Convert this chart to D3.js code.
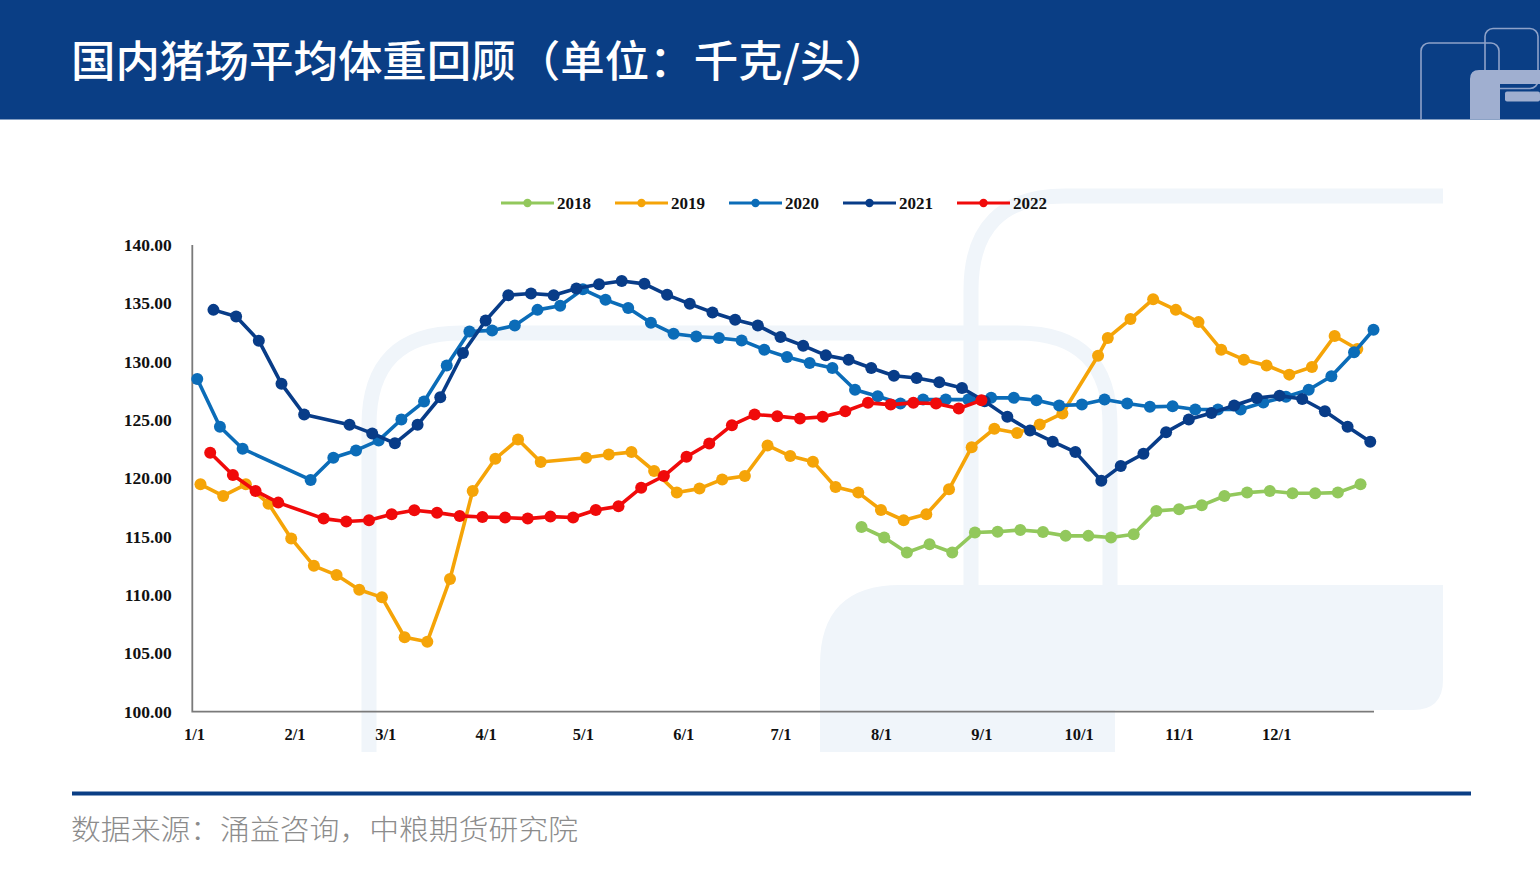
<!DOCTYPE html>
<html>
<head>
<meta charset="utf-8">
<script src="https://cdn.jsdelivr.net/npm/d3@7"></script>
<style>
  html, body { margin: 0; padding: 0; background: #ffffff; }
  svg { display: block; }
</style>
</head>
<body>
<svg id="chart" width="1540" height="875"></svg>
<script>
// ---------------- DATA ----------------
const title = "国内猪场平均体重回顾（单位：千克/头）";
const source = "数据来源：涌益咨询，中粮期货研究院";
const monthTicks = ["1/1","2/1","3/1","4/1","5/1","6/1","7/1","8/1","9/1","10/1","11/1","12/1"];
const yTicks = [100, 105, 110, 115, 120, 125, 130, 135, 140];
const seriesNames = ["2018", "2019", "2020", "2021", "2022"];
const seriesColors = ["#92C85C", "#F5A408", "#0B6CB8", "#083C88", "#F00A0A"];

const dates2018 = ["7/26","8/2","8/9","8/16","8/23","8/30","9/6","9/13","9/20","9/27","10/4","10/11","10/18","10/25","11/1","11/8","11/15","11/22","11/29","12/6","12/13","12/20","12/27"];
const values2018 = [115.84,114.93,113.65,114.36,113.65,115.36,115.43,115.58,115.41,115.07,115.07,114.93,115.21,117.21,117.35,117.69,118.49,118.78,118.92,118.72,118.72,118.78,119.49];

const dates2019 = ["1/3","1/10","1/17","1/24","1/31","2/7","2/14","2/21","2/28","3/7","3/14","3/21","3/28","4/4","4/11","4/18","5/2","5/9","5/16","5/23","5/30","6/6","6/13","6/20","6/27","7/4","7/11","7/18","7/25","8/1","8/8","8/15","8/22","8/29","9/5","9/12","9/19","9/26","10/7","10/10","10/17","10/24","10/31","11/7","11/14","11/21","11/28","12/5","12/12","12/19","12/26"];
const values2019 = [119.49,118.49,119.49,117.83,114.85,112.5,111.71,110.45,109.8,106.38,106.0,111.37,118.92,121.68,123.33,121.4,121.77,122.05,122.25,120.63,118.78,119.12,119.91,120.2,122.82,121.91,121.43,119.26,118.78,117.29,116.41,116.92,119.06,122.67,124.25,123.88,124.62,125.56,130.51,132.03,133.65,135.36,134.44,133.39,131.03,130.17,129.68,128.89,129.55,132.2,131.09];

const dates2020 = ["1/2","1/9","1/16","2/6","2/13","2/20","2/27","3/6","3/13","3/20","3/27","4/3","4/10","4/17","4/24","5/1","5/8","5/15","5/22","5/29","6/5","6/12","6/19","6/26","7/3","7/10","7/17","7/24","7/31","8/7","8/14","8/21","8/28","9/4","9/11","9/18","9/25","10/2","10/9","10/16","10/23","10/30","11/6","11/13","11/20","11/27","12/4","12/11","12/18","12/25","12/31"];
const values2020 = [128.52,124.42,122.54,119.86,121.77,122.39,123.25,125.04,126.58,129.68,132.59,132.68,133.1,134.44,134.79,136.2,135.3,134.6,133.33,132.39,132.16,132.03,131.82,131.03,130.4,129.89,129.46,127.6,127.03,126.41,126.75,126.75,126.75,126.9,126.9,126.7,126.24,126.32,126.75,126.41,126.13,126.18,125.9,125.9,125.9,126.5,127.0,127.6,128.75,130.8,132.74];

const dates2021 = ["1/7","1/14","1/21","1/28","2/4","2/18","2/25","3/4","3/11","3/18","3/25","4/1","4/8","4/15","4/22","4/29","5/6","5/13","5/20","5/27","6/3","6/10","6/17","6/24","7/1","7/8","7/15","7/22","7/29","8/5","8/12","8/19","8/26","9/2","9/9","9/16","9/23","9/30","10/8","10/14","10/21","10/28","11/4","11/11","11/18","11/25","12/2","12/9","12/16","12/23","12/30"];
const values2021 = [134.44,133.87,131.8,128.1,125.47,124.6,123.85,123.0,124.59,126.95,130.74,133.53,135.7,135.84,135.7,136.27,136.64,136.92,136.67,135.73,134.96,134.22,133.59,133.1,132.11,131.37,130.54,130.17,129.46,128.8,128.6,128.23,127.75,126.6,125.27,124.1,123.14,122.25,119.8,121.05,122.11,123.96,125.04,125.6,126.24,126.89,127.09,126.8,125.75,124.42,123.14];

const dates2022 = ["1/6","1/13","1/20","1/27","2/10","2/17","2/24","3/3","3/10","3/17","3/24","3/31","4/7","4/14","4/21","4/28","5/5","5/12","5/19","5/26","6/2","6/9","6/16","6/23","6/30","7/7","7/14","7/21","7/28","8/4","8/11","8/18","8/25","9/1"];
const values2022 = [122.2,120.28,118.92,117.92,116.55,116.3,116.41,116.92,117.26,117.06,116.78,116.69,116.64,116.55,116.72,116.64,117.29,117.6,119.2,120.2,121.85,122.99,124.56,125.47,125.33,125.13,125.27,125.75,126.47,126.32,126.47,126.41,125.98,126.69];

// ---------------- BUILD ----------------
const parseMD = s => { const [m, d] = s.split("/").map(Number); return new Date(2021, m - 1, d); };
const allDates = [dates2018, dates2019, dates2020, dates2021, dates2022];
const allValues = [values2018, values2019, values2020, values2021, values2022];
const series = seriesNames.map((name, i) => ({
  name, color: seriesColors[i],
  points: allDates[i].map((d, j) => ({ date: parseMD(d), value: allValues[i][j] }))
}));

const svg = d3.select("#chart");
const NAVY = "#0A3E85";

// ---------- header ----------
svg.append("defs").append("clipPath").attr("id", "hdrclip")
  .append("rect").attr("x", 0).attr("y", 0).attr("width", 1540).attr("height", 119.5);
svg.append("rect").attr("x", 0).attr("y", 0).attr("width", 1540).attr("height", 119.5).attr("fill", NAVY);
svg.append("text").attr("x", 71).attr("y", 77)
  .attr("fill", "#ffffff")
  .attr("font-family", "'Noto Sans CJK SC', 'Noto Sans', sans-serif")
  .attr("font-weight", 500).attr("font-size", 43)
  .attr("textLength", 818).attr("lengthAdjust", "spacingAndGlyphs")
  .text(title);

// header logo
const logo = svg.append("g").attr("clip-path", "url(#hdrclip)");
logo.append("rect").attr("x", 1421).attr("y", 43).attr("width", 78).attr("height", 86).attr("rx", 8)
  .attr("fill", "none").attr("stroke", "#8EA2C9").attr("stroke-width", 1.6);
logo.append("rect").attr("x", 1485).attr("y", 28.5).attr("width", 53).attr("height", 60).attr("rx", 8)
  .attr("fill", "none").attr("stroke", "#8EA2C9").attr("stroke-width", 1.6);
logo.append("path").attr("d", "M1470,119.5 L1470,79 Q1470,70 1479,70 L1540,70 L1540,84 L1500,84 L1500,119.5 Z")
  .attr("fill", "#A0AFD0");
logo.append("rect").attr("x", 1505).attr("y", 91.5).attr("width", 35).attr("height", 10).attr("rx", 2)
  .attr("fill", "#A0AFD0");

// ---------- watermark ----------
const wm = svg.append("g");
const WM = "#F0F5FA";
wm.append("path")
  .attr("d", "M820,752 L820,665 Q820,585 900,585 L1443,585 L1443,680 Q1443,710 1413,710 L1115,710 L1115,752 Z")
  .attr("fill", WM);
wm.append("path")
  .attr("d", "M369,752 L369,425 Q369,333 461,333 L1018,333 Q1110,333 1110,425 L1110,590")
  .attr("fill", "none").attr("stroke", WM).attr("stroke-width", 15);
wm.append("path")
  .attr("d", "M971,590 L971,290 Q971,196 1065,196 L1443,196")
  .attr("fill", "none").attr("stroke", WM).attr("stroke-width", 15);

// ---------- scales ----------
const x = d3.scaleTime().domain([new Date(2021, 0, 1), new Date(2021, 11, 31)]).range([194, 1373.5]);
const y = d3.scaleLinear().domain([100, 140]).range([711.7, 245]);

// axes
const xAxis = d3.axisBottom(x)
  .tickValues(monthTicks.map(parseMD))
  .tickFormat(d3.timeFormat("%-m/%-d"))
  .tickSize(0).tickSizeOuter(0).tickPadding(17);
const gx = svg.append("g").attr("transform", "translate(0,711.7)").call(xAxis);
gx.select(".domain").remove();
gx.selectAll("text")
  .attr("font-family", "'Liberation Serif', 'Times New Roman', serif")
  .attr("font-weight", "bold").attr("font-size", 16.5).attr("fill", "#111");

const yAxis = d3.axisLeft(y).tickValues(yTicks).tickFormat(d3.format(".2f")).tickSize(0).tickPadding(20.5);
const gy = svg.append("g").attr("transform", "translate(192.3,0)").call(yAxis);
gy.select(".domain").remove();
gy.selectAll("text")
  .attr("font-family", "'Liberation Serif', 'Times New Roman', serif")
  .attr("font-weight", "bold").attr("font-size", 17.5).attr("fill", "#111");

svg.append("path")
  .attr("d", `M192.3,${y(140)} L192.3,${y(100)} L1374,${y(100)}`)
  .attr("fill", "none").attr("stroke", "#7A7A7A").attr("stroke-width", 1.8);

// ---------- lines ----------
const line = d3.line().x(d => x(d.date)).y(d => y(d.value));
const gs = svg.append("g").selectAll("g").data(series).join("g");
gs.append("path").attr("d", d => line(d.points))
  .attr("fill", "none").attr("stroke", d => d.color).attr("stroke-width", 3.6)
  .attr("stroke-linejoin", "round");
gs.selectAll("circle").data(d => d.points.map(p => ({ ...p, color: d.color }))).join("circle")
  .attr("cx", p => x(p.date)).attr("cy", p => y(p.value)).attr("r", 6)
  .attr("fill", p => p.color);

// ---------- legend ----------
const legend = svg.append("g");
const legItems = legend.selectAll("g").data(series).join("g")
  .attr("transform", (d, i) => `translate(${501 + i * 114},203)`);
legItems.append("line").attr("x1", 0).attr("x2", 53).attr("y1", 0).attr("y2", 0)
  .attr("stroke", d => d.color).attr("stroke-width", 3);
legItems.append("circle").attr("cx", 26.5).attr("cy", 0).attr("r", 4.2).attr("fill", d => d.color);
legItems.append("text").attr("x", 56).attr("y", 0).attr("dy", "0.34em")
  .attr("font-family", "'Liberation Serif', 'Times New Roman', serif")
  .attr("font-weight", "bold").attr("font-size", 17).attr("fill", "#111")
  .text(d => d.name);

// ---------- footer ----------
svg.append("line").attr("x1", 72).attr("x2", 1471).attr("y1", 793.5).attr("y2", 793.5)
  .attr("stroke", NAVY).attr("stroke-width", 4);
svg.append("text").attr("x", 71).attr("y", 840)
  .attr("fill", "#8C8C8C")
  .attr("font-family", "'Noto Sans CJK SC', 'Noto Sans', sans-serif")
  .attr("font-weight", 300).attr("font-size", 28)
  .attr("textLength", 507).attr("lengthAdjust", "spacingAndGlyphs")
  .text(source);
</script>
</body>
</html>
